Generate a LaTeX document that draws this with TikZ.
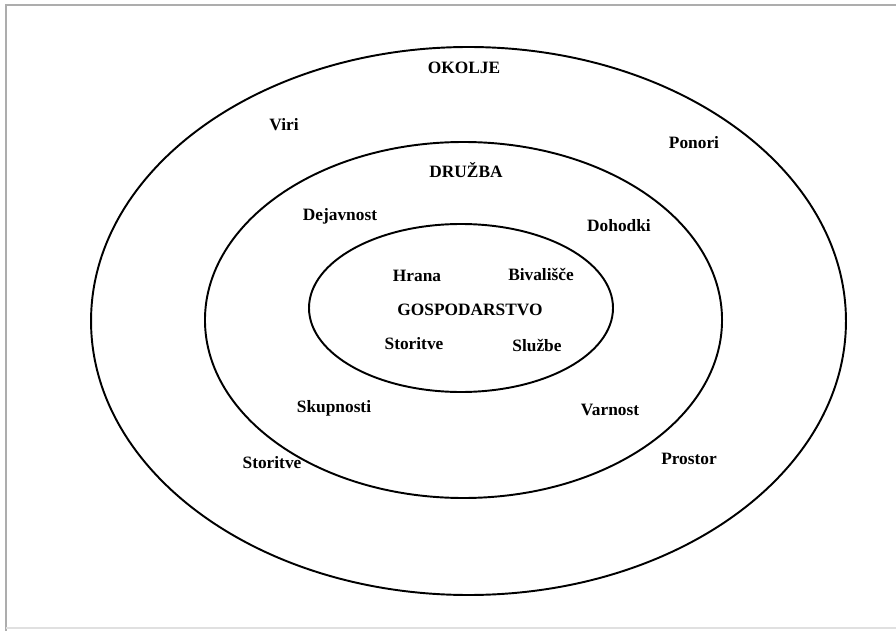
\documentclass[tikz,border=0pt]{standalone}
\usepackage{fontspec}
\setmainfont{Liberation Serif}
\usetikzlibrary{shapes}

\begin{document}
\begin{tikzpicture}[x = 0.75pt, y = -0.75pt]
\tikzstyle{LabelStyle}=[font = \bfseries\fontsize{13}{15}\selectfont,
                        inner sep = 0pt]
\tikzstyle{RingStyle}=[draw, line width = 1.45pt]
\useasboundingbox (0,0) rectangle (896,631);
\draw[black!32, line width = 1.6pt] (896,5) -- (6,5) -- (6,631);
\draw[black!12, line width = 1pt] (6,628) -- (896,628);
% rings
\draw[RingStyle] (468.5,321) ellipse [x radius = 283.1pt, y radius = 205.5pt];
\draw[RingStyle] (463.5,320) ellipse [x radius = 193.9pt, y radius = 133.5pt];
\draw[RingStyle] (461,308) ellipse [x radius = 114pt, y radius = 63pt];
% okolje
\node[LabelStyle] (okolje) at (464,68) {OKOLJE};
\node[LabelStyle] (viri) at (284,125) {Viri};
\node[LabelStyle] (ponori) at (694,143) {Ponori};
\node[LabelStyle] (storitveO) at (272,463) {Storitve};
\node[LabelStyle] (prostor) at (689,459) {Prostor};
% druzba
\node[LabelStyle] (druzba) at (466,170) {DRUŽBA};
\node[LabelStyle] (dejavnost) at (340,216) {Dejavnost};
\node[LabelStyle] (dohodki) at (619,226) {Dohodki};
\node[LabelStyle] (skupnosti) at (334,408) {Skupnosti};
\node[LabelStyle] (varnost) at (610,410) {Varnost};
% gospodarstvo
\node[LabelStyle] (hrana) at (417,276) {Hrana};
\node[LabelStyle] (bivalisce) at (541,274) {Bivališče};
\node[LabelStyle] (gospodarstvo) at (470,310) {GOSPODARSTVO};
\node[LabelStyle] (storitveG) at (414,344) {Storitve};
\node[LabelStyle] (sluzbe) at (537,345) {Službe};
\end{tikzpicture}
\end{document}
